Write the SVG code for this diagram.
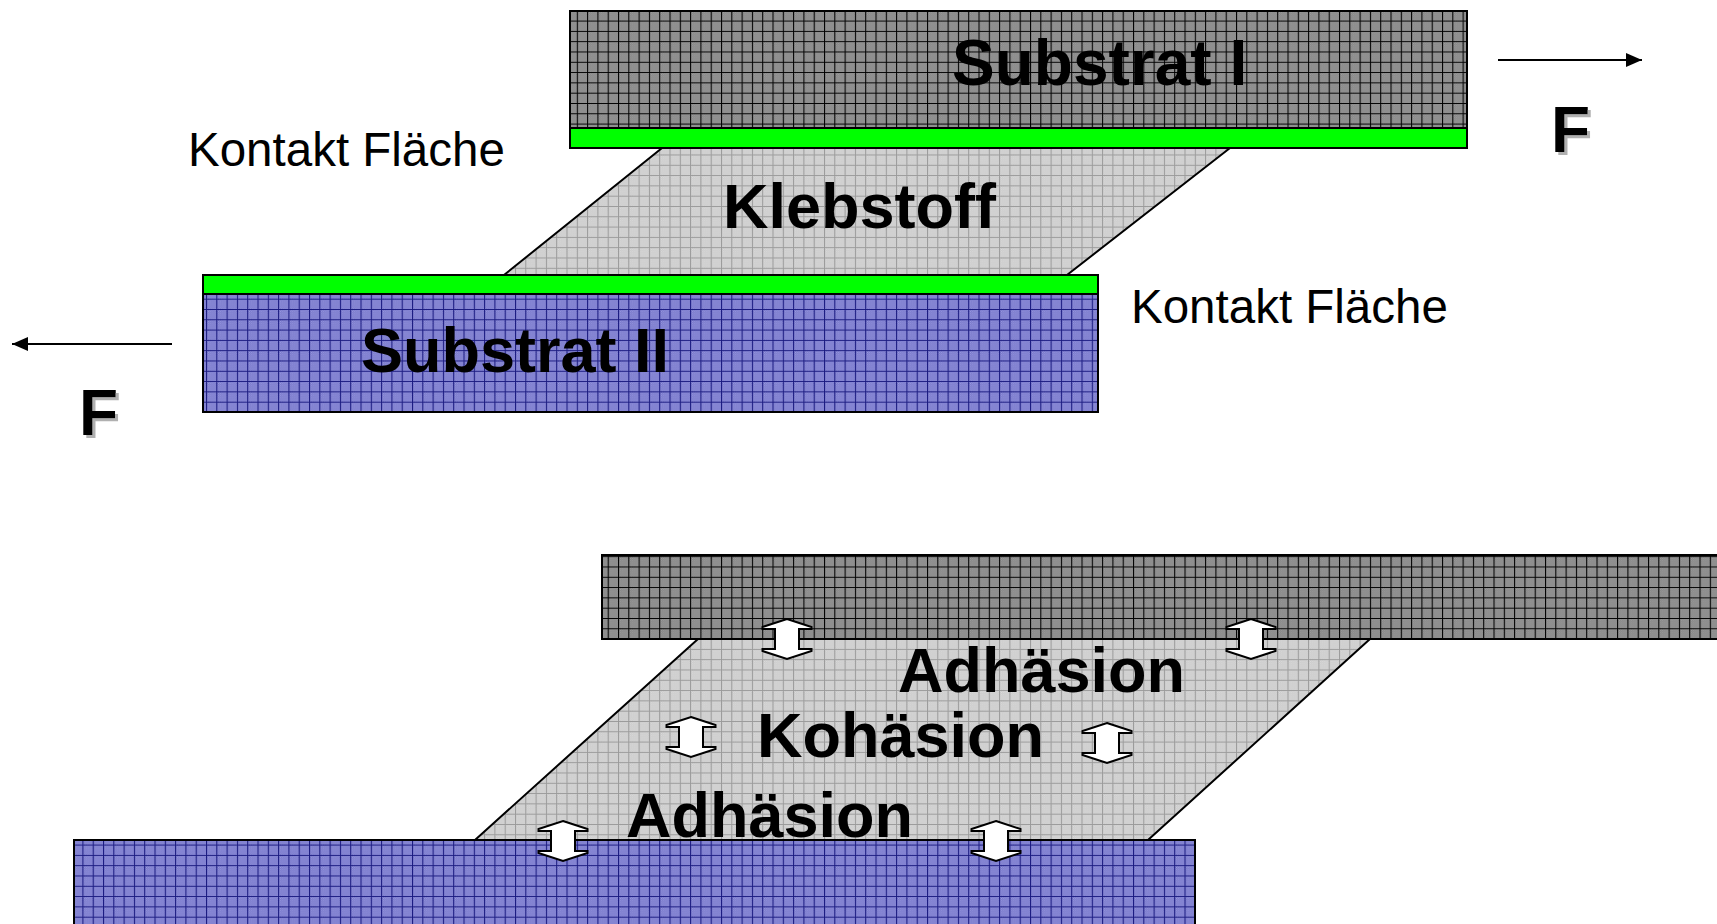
<svg xmlns="http://www.w3.org/2000/svg" width="1717" height="924" viewBox="0 0 1717 924">
  <style>
    .big { font-family: "Liberation Sans", Arial, sans-serif; font-weight: bold; font-size: 64px; fill: #000; }
    .mid { font-family: "Liberation Sans", Arial, sans-serif; font-weight: bold; font-size: 63px; fill: #000; }
    .lbl { font-family: "Liberation Sans", Arial, sans-serif; font-size: 47.5px; fill: #000; }
    .force { font-family: "Liberation Sans", Arial, sans-serif; font-weight: bold; font-size: 64px; }
    .edge { fill: none; stroke: #000; stroke-width: 2; }
    .bond { fill: #fff; stroke: #000; stroke-width: 2; stroke-linejoin: miter; }
    .green { fill: #00ff00; stroke: #000; stroke-width: 2; }
  </style>
  <defs>
    <!-- fine dithers for the material fills -->
    <pattern id="dDark" width="2" height="2" patternUnits="userSpaceOnUse">
      <rect width="2" height="2" fill="#7e7e7e"/>
      <rect width="1" height="1" fill="#a0a0a0"/>
      <rect x="1" y="1" width="1" height="1" fill="#a0a0a0"/>
    </pattern>
    <pattern id="dLight" width="2" height="2" patternUnits="userSpaceOnUse">
      <rect width="2" height="2" fill="#c6c6c6"/>
      <rect width="1" height="1" fill="#dcdcdc"/>
      <rect x="1" y="1" width="1" height="1" fill="#dcdcdc"/>
    </pattern>
    <pattern id="dBlue" width="2" height="2" patternUnits="userSpaceOnUse">
      <rect width="2" height="2" fill="#6c6cc4"/>
      <rect width="1" height="1" fill="#9c9ce0"/>
      <rect x="1" y="1" width="1" height="1" fill="#9c9ce0"/>
    </pattern>
    <!-- grid hatching -->
    <pattern id="gDark" width="10.3" height="10.3" patternUnits="userSpaceOnUse">
      <rect width="10.3" height="10.3" fill="url(#dDark)"/>
      <path d="M0,0.5 H10.3 M0.5,0 V10.3" stroke="#000" stroke-width="1.1"/>
    </pattern>
    <pattern id="gLight" width="10.3" height="10.3" patternUnits="userSpaceOnUse">
      <rect width="10.3" height="10.3" fill="url(#dLight)"/>
      <path d="M0,0.5 H10.3 M0.5,0 V10.3" stroke="#9a9a9a" stroke-width="1"/>
    </pattern>
    <pattern id="gBlue" width="10.3" height="10.3" patternUnits="userSpaceOnUse">
      <rect width="10.3" height="10.3" fill="url(#dBlue)"/>
      <path d="M0,0.5 H10.3 M0.5,0 V10.3" stroke="#1a1a80" stroke-width="1.1"/>
    </pattern>
    <marker id="head" markerWidth="16" markerHeight="14" refX="16" refY="7" orient="auto" markerUnits="userSpaceOnUse">
      <path d="M0,0 L16,7 L0,14 Z" fill="#000"/>
    </marker>
    <filter id="shadow" x="-20%" y="-20%" width="160%" height="160%">
      <feOffset in="SourceAlpha" dx="3" dy="3" result="o"/>
      <feFlood flood-color="#b0b0b0"/>
      <feComposite in2="o" operator="in" result="s"/>
      <feMerge><feMergeNode in="s"/><feMergeNode in="SourceGraphic"/></feMerge>
    </filter>
    <!-- double block arrow, centred on origin -->
    <path id="bondArrow" class="bond" d="M0,-20 L24.5,-12 L24.5,-10 L12,-10 L12,10 L24.5,10 L24.5,12 L0,20 L-24.5,12 L-24.5,10 L-12,10 L-12,-10 L-24.5,-10 L-24.5,-12 Z"/>
  </defs>

  <!-- upper drawing: lap joint under shear -->
  <g id="adhesive-top">
    <polygon points="662,148 1230,148 1067,275 504,275" fill="url(#gLight)"/>
    <path class="edge" d="M662,148 L504,275 M1230,148 L1067,275"/>
  </g>
  <g id="substrate-1">
    <rect x="570" y="11" width="897" height="117" fill="url(#gDark)" stroke="#000" stroke-width="2"/>
    <rect class="green" x="570" y="128" width="897" height="20"/>
  </g>
  <g id="substrate-2">
    <rect class="green" x="203" y="275" width="895" height="19"/>
    <rect x="203" y="294" width="895" height="118" fill="url(#gBlue)" stroke="#000" stroke-width="2"/>
  </g>
  <g id="labels-top">
    <text class="big" x="952" y="85">Substrat I</text>
    <text class="mid" x="723" y="228">Klebstoff</text>
    <text class="mid" x="361" y="372">Substrat II</text>
    <text class="lbl" x="188" y="166">Kontakt Fläche</text>
    <text class="lbl" x="1131" y="323">Kontakt Fläche</text>
  </g>
  <g id="force-right">
    <text class="force" x="1551" y="152" filter="url(#shadow)">F</text>
  </g>
  <g id="force-left">
    <text class="force" x="79" y="435" filter="url(#shadow)">F</text>
  </g>
  <g id="connectors">
    <line x1="1498" y1="60" x2="1642" y2="60" stroke="#000" stroke-width="2" marker-end="url(#head)"/>
    <line x1="172" y1="344" x2="12" y2="344" stroke="#000" stroke-width="2" marker-end="url(#head)"/>
  </g>

  <!-- lower drawing: adhesion and cohesion -->
  <g id="adhesive-bottom">
    <polygon points="698,639 1370,639 1148,840 475,840" fill="url(#gLight)"/>
    <path class="edge" d="M698,639 L475,840 M1370,639 L1148,840"/>
  </g>
  <g id="substrate-1b">
    <rect x="602" y="555" width="1120" height="84" fill="url(#gDark)" stroke="#000" stroke-width="2"/>
  </g>
  <g id="substrate-2b">
    <rect x="74" y="840" width="1121" height="90" fill="url(#gBlue)" stroke="#000" stroke-width="2"/>
  </g>
  <g id="labels-bottom">
    <text class="mid" x="898" y="692">Adhäsion</text>
    <text class="mid" x="757" y="757">Kohäsion</text>
    <text class="mid" x="626" y="837">Adhäsion</text>
  </g>
  <g id="bonds">
    <use href="#bondArrow" x="787" y="639"/>
    <use href="#bondArrow" x="1251" y="639"/>
    <use href="#bondArrow" x="691" y="737"/>
    <use href="#bondArrow" x="1107" y="743"/>
    <use href="#bondArrow" x="563" y="841"/>
    <use href="#bondArrow" x="996" y="841"/>
  </g>
</svg>
